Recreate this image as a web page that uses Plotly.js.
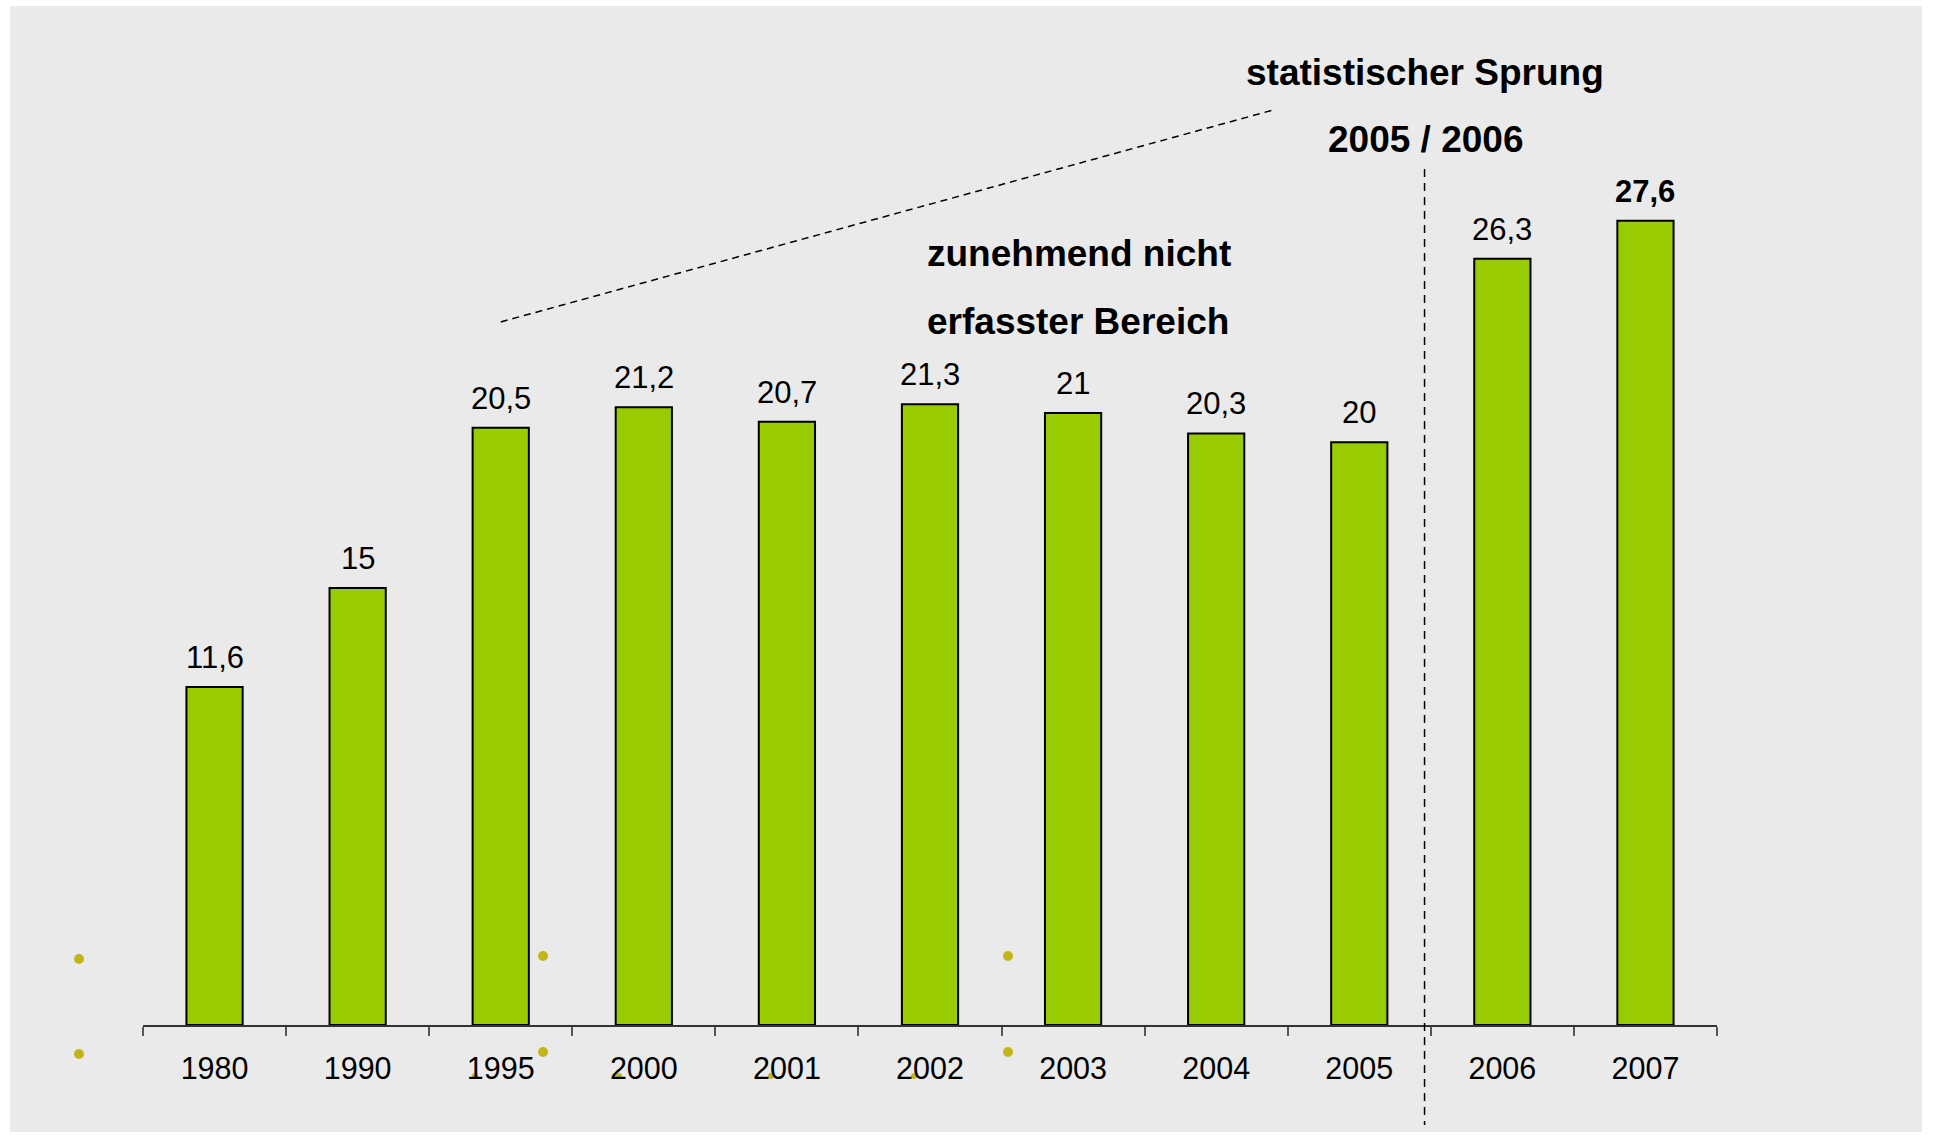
<!DOCTYPE html>
<html>
<head>
<meta charset="utf-8">
<script src="https://cdn.plot.ly/plotly-3.0.1.min.js"></script>
<style>
  html, body { margin: 0; padding: 0; background: #ffffff; }
  #chart { position: absolute; left: 10px; top: 6px; width: 1912px; height: 1126px; }
</style>
</head>
<body>
<div id="chart"></div>
<script>
var years = ['1980', '1990', '1995', '2000', '2001', '2002', '2003', '2004', '2005', '2006', '2007'];
var values = [11.6, 15, 20.5, 21.2, 20.7, 21.3, 21, 20.3, 20, 26.3, 27.6];
var boldLabel = [false, false, false, false, false, false, false, false, false, false, true];

var font = 'Liberation Sans, Arial, sans-serif';

var data = [{
    x: years,
    y: values,
    type: 'bar',
    marker: {color: '#99cc00', line: {color: '#000000', width: 2}},
    hoverinfo: 'x+y'
}];

// value labels above bars, German decimal comma
var labels = values.map(function (v, i) {
    var t = String(v).replace('.', ',');
    return {
        x: i, y: v, xref: 'x', yref: 'y',
        text: boldLabel[i] ? '<b>' + t + '</b>' : t,
        showarrow: false, yanchor: 'bottom', yshift: 10,
        font: {family: font, size: 31, color: '#000000'}
    };
});

var notes = [
    {text: '<b>statistischer Sprung</b>', x: 0.8145, y: 0.977, xanchor: 'center'},
    {text: '<b>2005 / 2006</b>', x: 0.8145, y: 0.908, xanchor: 'center'},
    {text: '<b>zunehmend nicht</b>', x: 0.4968, y: 0.791, xanchor: 'left'},
    {text: '<b>erfasster Bereich</b>', x: 0.4968, y: 0.722, xanchor: 'left'}
].map(function (a) {
    a.xref = 'paper'; a.yref = 'paper'; a.showarrow = false; a.yanchor = 'middle';
    a.font = {family: font, size: 37, color: '#000000'};
    return a;
});

// stray bullet dots from the original slide
var dots = [[79, 959, 5], [79, 1054, 5], [543, 956, 5], [543, 1052, 5], [1008, 956, 5], [1008, 1052, 5],
            [475, 1076, 3], [619, 1076, 3], [771, 1076, 3], [914, 1076, 3]];
var dotShapes = dots.map(function (d) {
    var px = (d[0] - 10 - 133) / 1574, py = (1019 - (d[1] - 6)) / 975;
    var rx = d[2] / 1574, ry = d[2] / 975;
    return {type: 'circle', xref: 'paper', yref: 'paper', layer: 'below',
            x0: px - rx, x1: px + rx, y0: py - ry, y1: py + ry,
            fillcolor: '#c2b51c', line: {width: 0}};
});

var layout = {
    width: 1912,
    height: 1126,
    margin: {l: 133, r: 205, t: 44, b: 107},
    paper_bgcolor: '#eaeaea',
    plot_bgcolor: '#eaeaea',
    showlegend: false,
    bargap: 0.607,
    font: {family: font, color: '#000000'},
    xaxis: {
        type: 'category',
        range: [-0.5, 10.5], autorange: false,
        showline: true, linecolor: '#333333', linewidth: 1.5,
        ticks: 'outside', tickson: 'boundaries', ticklen: 9, tickcolor: '#555555', tickwidth: 1.5,
        tickangle: 0, ticklabelstandoff: 16,
        tickfont: {family: font, size: 30.5, color: '#000000'},
        showgrid: false, zeroline: false
    },
    yaxis: {
        range: [0, 33.46], autorange: false,
        visible: false, showgrid: false, zeroline: false
    },
    annotations: labels.concat(notes),
    shapes: dotShapes.concat([
        {type: 'line', xref: 'paper', yref: 'paper', x0: 0.2273, y0: 0.7211, x1: 0.7186, y1: 0.9387,
         line: {color: '#000000', width: 1.5, dash: '7px,5px'}},
        {type: 'line', xref: 'paper', yref: 'paper', x0: 0.8142, y0: 0.878, x1: 0.8142, y1: -0.1026,
         line: {color: '#000000', width: 1.5, dash: '8px,6px'}}
    ])
};

Plotly.newPlot('chart', data, layout, {displayModeBar: false});
</script>
</body>
</html>
